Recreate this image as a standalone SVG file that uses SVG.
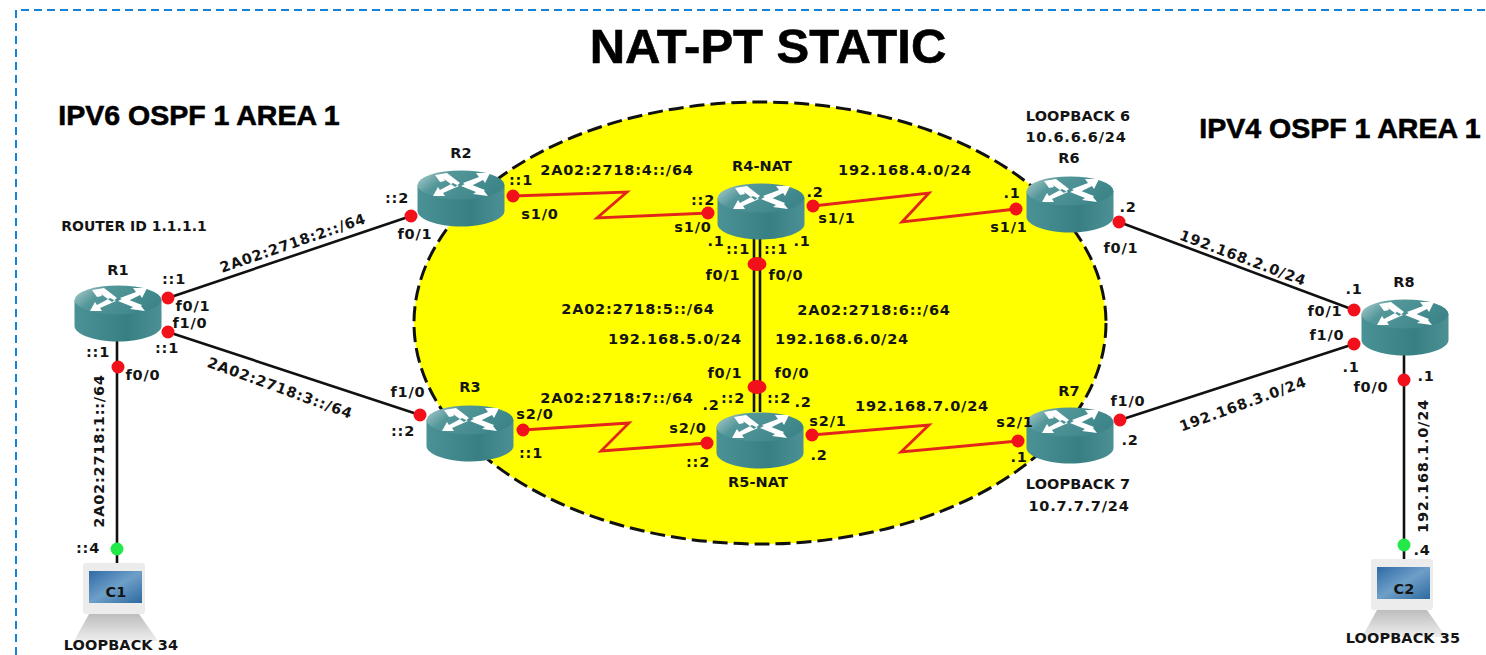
<svg xmlns="http://www.w3.org/2000/svg" width="1486" height="655" viewBox="0 0 1486 655">
<style>
text{font-family:"DejaVu Sans",sans-serif;font-weight:700;fill:#141414;text-anchor:middle;dominant-baseline:central}
.l{font-size:14.500px;letter-spacing:.8px}
.n{font-size:14.500px;letter-spacing:.1px}
.r{font-size:14px;letter-spacing:0}
.h{font-size:28.500px;fill:#000;font-family:"Liberation Sans",Arial,sans-serif;stroke:#000;stroke-width:.6px;letter-spacing:0}
.e{fill:none;stroke:#111;stroke-width:2.600}
.s{fill:none;stroke:#e2261b;stroke-width:2.800;stroke-linejoin:miter}
.d{fill:#f2101a}
.g{fill:#22e84a}
</style>
<defs>
<linearGradient id="top" x1="0" y1="0" x2="1" y2="0.4"><stop offset="0" stop-color="#b5d3d4"/><stop offset="0.35" stop-color="#54979a"/><stop offset="1" stop-color="#3d8589"/></linearGradient>
<linearGradient id="side" x1="0" y1="0" x2="1" y2="0"><stop offset="0" stop-color="#4b9296"/><stop offset="0.6" stop-color="#377f83"/><stop offset="1" stop-color="#4c9094"/></linearGradient>
<linearGradient id="scr" x1="0" y1="0" x2="1" y2="1"><stop offset="0" stop-color="#2f6aa6"/><stop offset="0.5" stop-color="#6e9fc8"/><stop offset="1" stop-color="#2e699f"/></linearGradient>
<linearGradient id="bs" x1="0" y1="0" x2="0" y2="1"><stop offset="0" stop-color="#bdbdbd"/><stop offset="1" stop-color="#eeeeee"/></linearGradient>
<g id="router">
<path d="M-43.500-13V13C-43.500 21 -24 28.500 0 28.500S43.500 21 43.500 13V-13Z" fill="url(#side)"/>
<ellipse cx="0" cy="-13" rx="43.500" ry="14.500" fill="url(#top)"/>
<path d="M-26-23L-14-25L-1-15L-6-11L-17-19L-16-17L-21-16Z M29-25L15-25L18-21L2-15L8-11L22-18L24-15Z M-28-2L-16-2L-18-5L-2-12L-8-15L-21-8L-23-11Z M27-2L23-7L24-8L6-15L0-12L15-6L12-4Z" fill="#fff"/>
</g>
<g id="pc">
<path d="M-26 51H24L43 78H-41Z" fill="url(#bs)"/>
<rect x="-32" y="0" width="62" height="51" rx="3" fill="#ececec"/>
<rect x="-26" y="8" width="53" height="32" fill="url(#scr)"/>
</g>
</defs>
<rect width="1486" height="655" fill="#fff"/>
<path d="M16 655V10H1486" fill="none" stroke="#1583d8" stroke-width="2" stroke-dasharray="8 5"/>
<ellipse id="area" cx="760" cy="323" rx="346" ry="221" fill="#ff0" stroke="#111" stroke-width="3" stroke-dasharray="15 6"/>
<g id="connectors">
<path class="e" d="M168 298L411 216M168 332L420 415M117 340V565M1119 222L1354 310M1120 420L1354 344M1404 355V560M754 238V412M760 238V412"/>
<path class="s" d="M513 196L627 192L597 218L709 213M813 206L929 193L902 222L1016 209M523 430L629 423L601 451L707 443M812 435L929 425L901 452L1018 441"/>
</g>
<g id="R1"><use href="#router" x="118" y="313"/><text class="n" x="118" y="270">R1</text></g>
<g id="R2"><use href="#router" x="461" y="198"/><text class="n" x="461" y="153">R2</text></g>
<g id="R3"><use href="#router" x="470" y="433"/><text class="n" x="470" y="387">R3</text></g>
<g id="R4"><use href="#router" x="761" y="211"/><text class="n" x="762" y="166">R4-NAT</text></g>
<g id="R5"><use href="#router" x="760" y="440"/><text class="n" x="758" y="482">R5-NAT</text></g>
<g id="R6"><use href="#router" x="1070" y="204"/><text class="n" x="1069" y="158">R6</text></g>
<g id="R7"><use href="#router" x="1070" y="435"/><text class="n" x="1069" y="391">R7</text></g>
<g id="R8"><use href="#router" x="1405" y="327"/><text class="n" x="1404" y="282">R8</text></g>
<g id="C1"><use href="#pc" x="115" y="563"/><text class="n" x="116" y="592">C1</text></g>
<g id="C2"><use href="#pc" x="1403" y="559"/><text class="n" x="1404" y="589">C2</text></g>
<g id="ports">
<circle class="d" cx="168" cy="298" r="6.500"/><circle class="d" cx="168" cy="332" r="6.500"/><circle class="d" cx="118" cy="367" r="6.500"/><circle class="d" cx="411" cy="216" r="6.500"/><circle class="d" cx="420" cy="415" r="6.500"/><circle class="d" cx="513" cy="196" r="6.500"/><circle class="d" cx="708" cy="213" r="6.500"/><circle class="d" cx="813" cy="206" r="6.500"/><circle class="d" cx="1016" cy="209" r="6.500"/><circle class="d" cx="1119" cy="222" r="6.500"/><circle class="d" cx="1354" cy="310" r="6.500"/><circle class="d" cx="1354" cy="344" r="6.500"/><circle class="d" cx="1404" cy="380" r="6.500"/><circle class="d" cx="1120" cy="420" r="6.500"/><circle class="d" cx="1018" cy="441" r="6.500"/><circle class="d" cx="812" cy="435" r="6.500"/><circle class="d" cx="707" cy="443" r="6.500"/><circle class="d" cx="523" cy="430" r="6.500"/><ellipse class="d" cx="757" cy="264" rx="9.500" ry="7"/><ellipse class="d" cx="757" cy="387" rx="9.500" ry="7"/>
<circle class="g" cx="117" cy="549" r="6.500"/><circle class="g" cx="1404" cy="545" r="6.500"/>
</g>
<g id="labels">
<text class="h" x="768" y="46" style="font-size:49px">NAT-PT STATIC</text>
<text class="h" x="199" y="115">IPV6 OSPF 1 AREA 1</text>
<text class="h" x="1340" y="128">IPV4 OSPF 1 AREA 1</text>
<text class="r" x="134" y="226">ROUTER ID 1.1.1.1</text>
<text class="l" x="174" y="279">::1</text><text class="l" x="193" y="306">f0/1</text><text class="l" x="190" y="323">f1/0</text><text class="l" x="167" y="348">::1</text><text class="l" x="98" y="352">::1</text><text class="l" x="143" y="375">f0/0</text>
<text class="l" x="397" y="198">::2</text><text class="l" x="415" y="234">f0/1</text><text class="l" x="408" y="392">f1/0</text><text class="l" x="403" y="431">::2</text>
<text class="l" x="535" y="414">s2/0</text><text class="l" x="531" y="453">::1</text><text class="l" x="521" y="180">::1</text><text class="l" x="540" y="214">s1/0</text>
<text class="l" x="617" y="170">2A02:2718:4::/64</text><text class="l" x="703" y="200">::2</text><text class="l" x="693" y="227">s1/0</text><text class="l" x="815" y="192">.2</text><text class="l" x="837" y="218">s1/1</text><text class="l" x="905" y="170">192.168.4.0/24</text><text class="l" x="1012" y="193">.1</text><text class="l" x="1009" y="227">s1/1</text>
<text class="l" x="716" y="241">.1</text><text class="l" x="738" y="249">::1</text><text class="l" x="776" y="249">::1</text><text class="l" x="802" y="241">.1</text><text class="l" x="723" y="275">f0/1</text><text class="l" x="786" y="275">f0/0</text>
<text class="l" x="638" y="309">2A02:2718:5::/64</text><text class="l" x="874" y="310">2A02:2718:6::/64</text><text class="l" x="675" y="339">192.168.5.0/24</text><text class="l" x="842" y="339">192.168.6.0/24</text>
<text class="l" x="725" y="373">f0/1</text><text class="l" x="792" y="373">f0/0</text><text class="l" x="617" y="398">2A02:2718:7::/64</text><text class="l" x="711" y="405">.2</text><text class="l" x="733" y="398">::2</text><text class="l" x="779" y="398">::2</text><text class="l" x="803" y="402">.2</text>
<text class="l" x="688" y="428">s2/0</text><text class="l" x="828" y="421">s2/1</text><text class="l" x="922" y="406">192.168.7.0/24</text><text class="l" x="1015" y="422">s2/1</text><text class="l" x="698" y="462">::2</text><text class="l" x="819" y="455">.2</text><text class="l" x="1019" y="457">.1</text>
<text class="n" x="1078" y="116">LOOPBACK 6</text><text class="l" x="1076" y="137">10.6.6.6/24</text><text class="l" x="1128" y="207">.2</text><text class="l" x="1121" y="248">f0/1</text>
<text class="l" x="1354" y="289">.1</text><text class="l" x="1325" y="311">f0/1</text><text class="l" x="1327" y="335">f1/0</text><text class="l" x="1351" y="367">.1</text><text class="l" x="1371" y="387">f0/0</text><text class="l" x="1426" y="376">.1</text>
<text class="l" x="1128" y="401">f1/0</text><text class="l" x="1130" y="440">.2</text><text class="n" x="1078" y="484">LOOPBACK 7</text><text class="l" x="1079" y="506">10.7.7.7/24</text>
<text class="l" x="88" y="548">::4</text><text class="n" x="121" y="645">LOOPBACK 34</text><text class="l" x="1422" y="550">.4</text><text class="n" x="1403" y="638">LOOPBACK 35</text>
<text class="l" transform="translate(293 243) rotate(-19)">2A02:2718:2::/64</text>
<text class="l" transform="translate(280 388) rotate(20)">2A02:2718:3::/64</text>
<text class="l" transform="translate(1243 258) rotate(20.500)">192.168.2.0/24</text>
<text class="l" transform="translate(1243 404) rotate(-20)">192.168.3.0/24</text>
<text class="l" transform="translate(99 451) rotate(-90)">2A02:2718:1::/64</text>
<text class="l" transform="translate(1423 466) rotate(-90)">192.168.1.0/24</text>
</g>
</svg>
